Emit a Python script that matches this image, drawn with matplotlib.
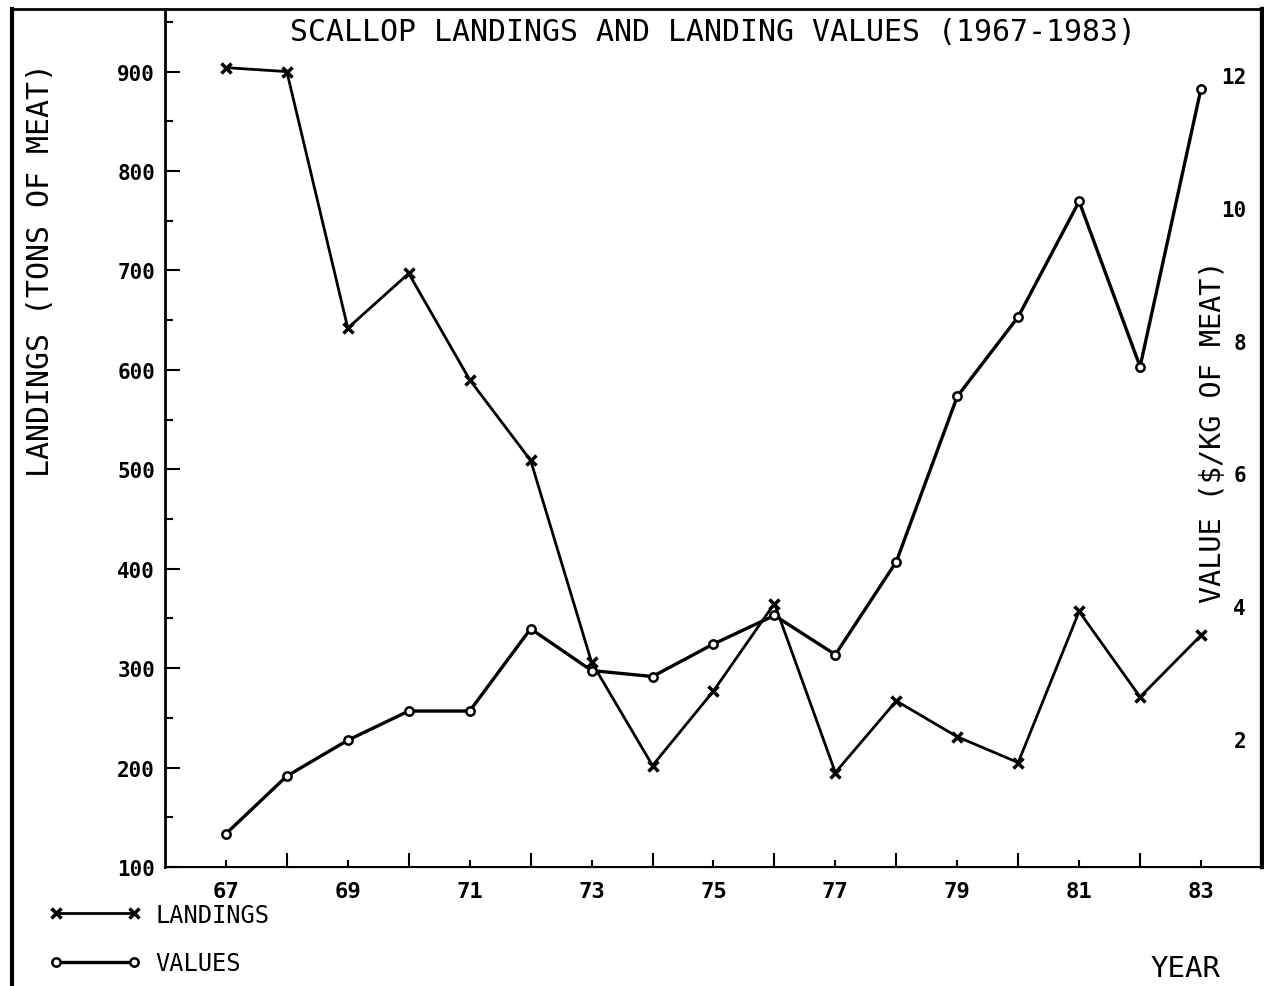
import numpy as np
import matplotlib
matplotlib.use("Agg")
import matplotlib.pyplot as plt
from matplotlib.lines import Line2D
from matplotlib.ticker import FixedLocator

years = [67, 68, 69, 70, 71, 72, 73, 74, 75, 76, 77, 78, 79, 80, 81, 82, 83]
landings = [904, 900, 642, 697, 590, 509, 306, 202, 277, 365, 195, 267, 231, 205, 357, 271, 333]
values = [0.57, 1.44, 1.98, 2.42, 2.42, 3.66, 3.03, 2.94, 3.43, 3.86, 3.27, 4.67, 7.16, 8.36, 10.1, 7.61, 11.8]

left_ticks = [100, 200, 300, 400, 500, 600, 700, 800, 900]
right_ticks = [2, 4, 6, 8, 10, 12]
x_ticks = [67, 69, 71, 73, 75, 77, 79, 81, 83]

plt.rcParams["font.family"] = "DejaVu Sans Mono"

fig = plt.figure(figsize=(12.64, 9.87), dpi=100)
ax = fig.add_axes([0.1305, 0.1206, 0.8679, 0.8693])
ax2 = ax.twinx()

l1, = ax.plot(years, landings, color="black", lw=2, marker="x", ms=7, mew=2.5,
              label="LANDINGS")
l2, = ax2.plot(years, values, color="black", lw=2.4, marker="o", ms=6, mfc="white",
               mew=1.8, label="VALUES")

ax.set_xlim(66, 84)
ax.set_ylim(100, 963)
ax2.set_ylim(0.07, 13.0)

ax.set_yticks(left_ticks)
ax.yaxis.set_minor_locator(FixedLocator(np.arange(150, 1000, 100)))
ax.set_xticks(x_ticks)
ax.xaxis.set_minor_locator(FixedLocator(range(68, 84, 2)))
ax.tick_params(axis="y", which="major", direction="in", length=11, width=1.5,
               labelsize=15, pad=7)
ax.tick_params(axis="y", which="minor", direction="in", length=6, width=1.5)
ax.tick_params(axis="x", which="major", direction="in", length=5, width=1.5,
               labelsize=16, pad=10)
ax.tick_params(axis="x", which="minor", direction="in", length=10, width=1.5)
for t in ax.get_xticklabels() + ax.get_yticklabels():
    t.set_fontweight("bold")

ax2.set_yticks(right_ticks)
ax2.tick_params(axis="y", direction="in", length=0, labelsize=15, pad=-11.5)
for t in ax2.get_yticklabels():
    t.set_horizontalalignment("right")
    t.set_fontweight("bold")

for a in (ax, ax2):
    a.spines["top"].set_visible(False)
ax.spines["left"].set_linewidth(2)
ax.spines["bottom"].set_linewidth(1.5)
ax2.spines["right"].set_linewidth(3)
ax.spines["right"].set_linewidth(3)

ax.set_title("SCALLOP LANDINGS AND LANDING VALUES (1967-1983)", fontsize=21.5,
             y=0.954)
ax.set_ylabel("LANDINGS (TONS OF MEAT)", fontsize=21.5)
ax.yaxis.set_label_coords(-0.1, 0.697)
ax2.set_ylabel("VALUE ($/KG OF MEAT)", fontsize=20.5)
ax2.yaxis.set_label_coords(0.943, 0.508)
ax.set_xlabel("YEAR", fontsize=21)
ax.xaxis.set_label_coords(0.93, -0.101)

ax.legend(handles=[l1, l2], loc="upper left", bbox_to_anchor=(0.022, 0.106),
          bbox_transform=fig.transFigure, frameon=False, fontsize=17,
          handlelength=3.9, numpoints=2, labelspacing=1.05, handletextpad=0.6)

# page frame (top and left rules)
fig.add_artist(Line2D([0.0095, 0.9984], [0.9899, 0.9899], transform=fig.transFigure,
                      color="black", lw=2))
fig.add_artist(Line2D([0.0095, 0.0095], [0.0, 0.9899], transform=fig.transFigure,
                      color="black", lw=3))

fig.savefig("out.png", dpi=100)
